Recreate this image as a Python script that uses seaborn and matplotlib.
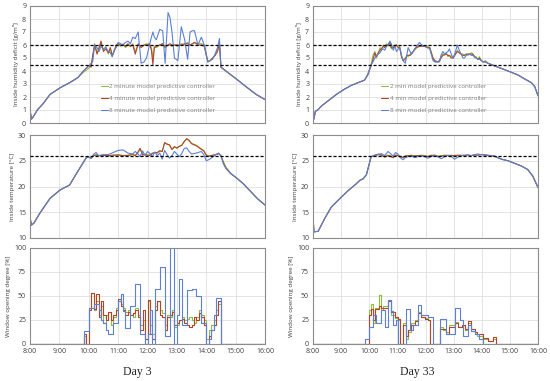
import pandas as pd
import matplotlib
matplotlib.use('Agg')
import matplotlib.pyplot as plt
import seaborn as sns

# ---------------- data ----------------
labels = ['2 minute model predictive controller',
          '4 minute model predictive controller',
          '8 minute model predictive controller']
labels_d33 = ['2 min model predictive controller',
              '4 min model predictive controller',
              '8 min model predictive controller']
hour_ticks = [8, 9, 10, 11, 12, 13, 14, 15, 16]
hour_labels = ['8:00', '9:00', '10:00', '11:00', '12:00', '13:00', '14:00', '15:00', '16:00']
day_titles = ['Day 3', 'Day 33']
hum_limits = [6.0, 4.5]
temp_limit = [26.0]

# Day 3 - inside humidity deficit
d3_hum_time = ['8:00', '8:03', '8:07', '8:15', '8:27', '8:41', '9:01', '9:21', '9:38', '9:49',
               '10:00', '10:05', '10:08', '10:12', '10:17', '10:21', '10:25', '10:30', '10:35', '10:40',
               '10:44', '10:48', '10:52', '10:56', '11:00', '11:05', '11:10', '11:15', '11:20', '11:25',
               '11:30', '11:35', '11:41', '11:47', '11:53', '11:58', '12:04', '12:08', '12:11', '12:14',
               '12:18', '12:25', '12:31', '12:36', '12:42', '12:46', '12:50', '12:55', '13:02', '13:09',
               '13:16', '13:22', '13:27', '13:32', '13:36', '13:43', '13:50', '13:56', '14:03', '14:08',
               '14:13', '14:18', '14:23', '14:27', '14:30', '14:40', '15:01', '15:21', '15:42', '16:00']
d3_hum_2 = [1.0, 0.3, 0.5, 1.0, 1.5, 2.2, 2.7, 3.1, 3.5, 3.9,
            4.2, 4.5, 5.0, 6.1, 5.4, 5.6, 6.2, 5.6, 5.9, 5.3,
            5.7, 5.1, 5.6, 5.9, 6.0, 5.9, 6.1, 5.8, 6.0, 5.9,
            6.1, 5.5, 6.0, 5.9, 6.0, 6.1, 6.0, 5.8, 5.0, 5.9,
            5.8, 6.0, 6.1, 5.9, 6.0, 6.0, 5.9, 6.0, 5.9, 6.1,
            6.0, 6.2, 6.0, 6.1, 6.2, 6.1, 6.1, 6.0, 4.8, 4.8,
            5.0, 5.2, 5.6, 6.0, 4.3, 4.0, 3.4, 2.8, 2.2, 1.8]
d3_hum_4 = [1.0, 0.3, 0.5, 1.0, 1.5, 2.2, 2.7, 3.1, 3.5, 4.0,
            4.4, 4.3, 5.2, 6.0, 5.3, 5.8, 6.3, 5.5, 5.7, 5.4,
            5.8, 5.2, 5.5, 6.0, 6.1, 6.0, 6.0, 5.9, 6.1, 5.9,
            6.0, 5.3, 6.1, 5.8, 6.0, 6.0, 6.1, 5.6, 4.5, 5.8,
            5.9, 6.0, 6.1, 5.8, 6.0, 6.1, 6.0, 6.0, 6.0, 6.0,
            6.1, 6.1, 6.0, 6.1, 6.2, 6.0, 6.0, 5.9, 4.7, 4.8,
            5.0, 5.2, 5.5, 6.1, 4.3, 4.0, 3.4, 2.8, 2.2, 1.8]
d3_hum_8 = [1.0, 0.3, 0.5, 1.0, 1.5, 2.2, 2.7, 3.1, 3.5, 4.0,
            4.4, 4.6, 4.7, 6.0, 5.8, 5.5, 5.9, 5.7, 5.8, 5.5,
            5.4, 5.1, 5.6, 5.8, 6.2, 6.1, 6.0, 6.2, 6.3, 6.1,
            6.6, 6.5, 7.0, 4.6, 4.7, 5.0, 6.0, 6.6, 7.0, 6.6,
            6.4, 7.2, 7.1, 4.6, 8.5, 8.1, 7.0, 5.0, 4.8, 7.4,
            6.4, 4.9, 7.0, 7.1, 7.1, 6.0, 6.6, 6.0, 4.7, 4.8,
            4.9, 5.3, 5.8, 6.5, 4.3, 4.0, 3.4, 2.8, 2.2, 1.8]

# Day 3 - inside temperature
d3_temp_time = ['8:00', '8:03', '8:08', '8:20', '8:30', '8:41', '9:01', '9:21', '9:38', '9:55',
                '10:00', '10:05', '10:10', '10:15', '10:20', '10:30', '10:40', '10:50', '11:00', '11:10',
                '11:20', '11:30', '11:35', '11:40', '11:45', '11:50', '11:55', '12:00', '12:05', '12:10',
                '12:15', '12:20', '12:25', '12:30', '12:35', '12:40', '12:45', '12:50', '12:55', '13:00',
                '13:05', '13:10', '13:15', '13:20', '13:25', '13:30', '13:40', '13:50', '13:55', '14:00',
                '14:05', '14:10', '14:20', '14:25', '14:30', '14:35', '14:40', '14:50', '15:00', '15:15',
                '15:30', '15:45', '16:00']
d3_temp_2 = [14.0, 12.5, 12.9, 14.8, 16.2, 17.7, 19.3, 20.3, 23.0, 25.6,
             25.7, 25.5, 26.0, 26.2, 26.0, 26.1, 25.9, 26.0, 26.2, 26.0,
             26.1, 26.3, 26.0, 26.5, 27.3, 26.2, 26.3, 26.0, 26.2, 26.5,
             26.6, 26.5, 27.0, 26.8, 28.5, 28.3, 28.0, 27.2, 27.8, 27.4,
             27.8, 28.0, 28.8, 29.2, 29.0, 28.4, 28.0, 27.3, 27.0, 26.0,
             25.8, 26.0, 26.2, 26.4, 26.0, 24.8, 23.8, 22.6, 21.8, 20.6,
             19.1, 17.6, 16.4]
d3_temp_4 = [14.0, 12.5, 12.9, 14.8, 16.2, 17.7, 19.3, 20.3, 23.0, 25.6,
             25.7, 25.5, 26.0, 26.1, 26.0, 26.0, 26.0, 26.1, 26.1, 26.0,
             26.0, 26.2, 26.0, 26.6, 27.4, 26.1, 26.2, 26.1, 26.0, 26.4,
             26.6, 26.6, 26.9, 26.8, 28.5, 28.2, 28.1, 27.2, 27.7, 27.5,
             27.8, 28.0, 28.7, 29.3, 28.9, 28.3, 27.9, 27.2, 26.9, 26.1,
             25.9, 26.0, 26.2, 26.4, 26.0, 24.6, 23.6, 22.5, 21.8, 20.6,
             19.1, 17.6, 16.4]
d3_temp_8 = [14.0, 12.5, 12.9, 14.8, 16.2, 17.7, 19.3, 20.3, 23.0, 25.6,
             25.7, 25.5, 26.3, 26.6, 26.0, 26.2, 26.2, 26.6, 27.0, 27.1,
             26.5, 26.3, 26.8, 26.4, 25.8, 26.9, 26.0, 26.8, 26.4, 25.8,
             26.7, 26.0, 26.5, 25.3, 27.0, 26.2, 25.5, 26.0, 26.8, 26.3,
             25.8, 26.4, 27.4, 27.5, 26.8, 26.3, 26.5, 26.8, 26.2, 25.0,
             25.2, 25.5, 26.2, 26.5, 26.0, 24.4, 23.5, 22.5, 21.8, 20.6,
             19.1, 17.6, 16.4]

# Day 3 - window opening degree (step signal)
d3_win_time = ['8:00', '9:45', '9:50', '9:55', '10:00', '10:05', '10:10', '10:15', '10:20', '10:25',
               '10:30', '10:35', '10:40', '10:45', '10:50', '10:55', '11:00', '11:05', '11:10', '11:15',
               '11:20', '11:25', '11:30', '11:35', '11:40', '11:45', '11:50', '11:55', '12:00', '12:05',
               '12:10', '12:15', '12:20', '12:25', '12:30', '12:35', '12:40', '12:45', '12:50', '12:55',
               '13:00', '13:05', '13:10', '13:15', '13:20', '13:25', '13:30', '13:35', '13:40', '13:45',
               '13:50', '13:55', '14:00', '14:05', '14:10', '14:15', '14:20', '14:25', '14:30', '16:00']
d3_win_2 = [0, 0, 8, 0, 38, 53, 35, 45, 30, 40,
            22, 30, 33, 20, 28, 38, 45, 42, 38, 33,
            35, 30, 28, 38, 30, 20, 25, 0, 45, 20,
            10, 40, 45, 35, 32, 20, 30, 28, 35, 18,
            20, 25, 28, 25, 26, 28, 25, 22, 28, 35,
            30, 25, 5, 15, 20, 25, 35, 42, 0, 0]
d3_win_4 = [0, 0, 10, 0, 35, 53, 36, 52, 28, 45,
            30, 25, 33, 25, 30, 35, 47, 40, 35, 30,
            33, 30, 32, 35, 28, 15, 35, 5, 46, 10,
            5, 35, 45, 30, 28, 15, 28, 30, 33, 20,
            22, 25, 26, 22, 20, 18, 20, 28, 25, 32,
            28, 20, 0, 8, 15, 20, 30, 45, 0, 0]
d3_win_8 = [0, 0, 14, 14, 38, 38, 42, 42, 35, 25,
            22, 15, 10, 10, 22, 22, 45, 52, 34, 17,
            17, 40, 40, 62, 62, 10, 10, 0, 10, 35,
            0, 57, 57, 80, 80, 8, 8, 100, 100, 0,
            30, 68, 20, 20, 56, 56, 57, 57, 50, 50,
            22, 22, 0, 5, 15, 30, 48, 48, 0, 0]

# Day 33 - inside humidity deficit
d33_hum_time = ['8:00', '8:02', '8:05', '8:10', '8:18', '8:32', '8:50', '9:07', '9:22', '9:36',
                '9:50', '9:57', '10:04', '10:08', '10:12', '10:15', '10:19', '10:23', '10:26', '10:30',
                '10:33', '10:37', '10:40', '10:44', '10:47', '10:51', '10:55', '10:58', '11:02', '11:05',
                '11:09', '11:12', '11:17', '11:20', '11:23', '11:27', '11:30', '11:34', '11:37', '11:41',
                '11:47', '11:52', '11:58', '12:04', '12:09', '12:13', '12:16', '12:20', '12:26', '12:30',
                '12:33', '12:37', '12:41', '12:44', '12:48', '12:51', '12:55', '12:59', '13:04', '13:08',
                '13:12', '13:16', '13:20', '13:23', '13:27', '13:31', '13:34', '13:38', '13:41', '13:45',
                '13:48', '13:52', '13:55', '13:59', '14:03', '14:08', '14:13', '14:20', '14:27', '14:49',
                '15:03', '15:17', '15:31', '15:46', '15:53', '16:00']
d33_hum_2 = [1.4, 0.3, 0.9, 1.0, 1.3, 1.7, 2.2, 2.6, 2.9, 3.1,
             3.3, 3.8, 4.5, 5.2, 5.5, 5.0, 5.3, 5.8, 5.6, 6.0,
             5.9, 6.1, 5.9, 6.1, 5.7, 5.9, 6.0, 6.0, 5.8, 5.9,
             5.0, 4.9, 5.0, 5.1, 5.1, 5.3, 5.4, 5.5, 5.6, 5.8,
             5.9, 6.0, 5.9, 5.9, 5.8, 5.4, 5.0, 4.7, 4.7, 4.8,
             5.1, 5.3, 5.2, 5.4, 5.1, 5.2, 5.1, 5.0, 5.3, 5.6,
             5.4, 5.3, 5.3, 5.2, 5.3, 5.2, 5.3, 5.4, 5.3, 5.0,
             5.1, 4.9, 5.1, 4.8, 4.7, 4.8, 4.6, 4.5, 4.4, 4.1,
             3.9, 3.7, 3.4, 3.1, 2.8, 2.1]
d33_hum_4 = [1.4, 0.3, 0.9, 1.0, 1.3, 1.7, 2.2, 2.6, 2.9, 3.1,
             3.3, 3.7, 4.4, 4.9, 5.4, 5.1, 5.4, 5.6, 5.7, 5.9,
             5.8, 6.0, 6.0, 6.2, 5.8, 5.8, 5.9, 6.0, 5.8, 5.8,
             5.1, 4.8, 4.9, 5.2, 5.2, 5.2, 5.3, 5.5, 5.7, 5.8,
             5.9, 5.9, 5.9, 5.8, 5.8, 5.3, 5.0, 4.8, 4.7, 4.8,
             5.0, 5.2, 5.3, 5.3, 5.2, 5.2, 5.0, 5.0, 5.3, 5.5,
             5.4, 5.3, 5.2, 5.2, 5.3, 5.3, 5.3, 5.3, 5.3, 5.1,
             5.0, 4.9, 5.0, 4.8, 4.7, 4.7, 4.6, 4.5, 4.4, 4.1,
             3.9, 3.7, 3.4, 3.1, 2.8, 2.1]
d33_hum_8 = [1.4, 0.3, 0.9, 1.0, 1.3, 1.7, 2.2, 2.6, 2.9, 3.1,
             3.3, 3.7, 4.5, 4.7, 5.0, 5.2, 5.3, 5.4, 5.6, 5.7,
             5.6, 5.9, 6.0, 6.3, 6.1, 5.6, 5.9, 5.5, 5.7, 5.8,
             5.2, 4.8, 4.6, 5.2, 5.8, 5.5, 5.3, 5.5, 5.7, 5.9,
             6.2, 6.0, 5.9, 5.8, 5.7, 5.2, 4.8, 4.7, 4.7, 4.7,
             5.2, 5.5, 5.3, 5.4, 5.5, 5.7, 5.3, 5.0, 5.5, 6.0,
             5.6, 5.3, 5.0, 5.0, 5.2, 5.3, 5.3, 5.2, 5.2, 5.1,
             5.0, 4.9, 4.9, 4.8, 4.7, 4.7, 4.6, 4.5, 4.4, 4.1,
             3.9, 3.7, 3.4, 3.1, 2.8, 2.1]

# Day 33 - inside temperature
d33_temp_time = ['8:00', '8:02', '8:11', '8:25', '8:39', '9:00', '9:15', '9:32', '9:40', '9:47',
                 '9:54', '10:04', '10:12', '10:20', '10:26', '10:33', '10:40', '10:44', '10:51', '10:56',
                 '11:01', '11:06', '11:12', '11:17', '11:23', '11:30', '11:37', '11:44', '11:51', '11:58',
                 '12:05', '12:12', '12:20', '12:27', '12:34', '12:41', '12:48', '12:55', '13:02', '13:09',
                 '13:16', '13:23', '13:30', '13:38', '13:45', '13:52', '13:59', '14:06', '14:13', '14:20',
                 '14:27', '14:42', '14:56', '15:10', '15:24', '15:38', '15:49', '16:00']
d33_temp_2 = [14.4, 11.2, 11.3, 13.8, 16.0, 17.9, 19.2, 20.5, 21.2, 21.5,
              22.3, 25.8, 26.0, 26.2, 26.0, 25.8, 26.1, 26.0, 25.7, 26.0,
              26.1, 25.9, 25.7, 25.9, 26.0, 26.1, 25.9, 26.0, 26.1, 26.0,
              25.9, 26.1, 26.0, 25.9, 26.0, 26.1, 26.0, 26.1, 25.9, 26.0,
              26.1, 26.0, 26.1, 26.0, 26.2, 26.1, 26.2, 26.1, 26.0, 26.0,
              25.9, 25.3, 25.0, 24.5, 24.0, 23.3, 22.0, 19.8]
d33_temp_4 = [14.4, 11.2, 11.3, 13.8, 16.0, 17.9, 19.2, 20.5, 21.2, 21.5,
              22.3, 25.8, 26.1, 26.3, 26.1, 25.7, 26.0, 25.9, 25.6, 26.1,
              26.0, 25.8, 25.6, 25.9, 26.0, 26.0, 25.9, 26.0, 26.0, 25.9,
              25.8, 26.0, 26.1, 25.8, 25.9, 26.0, 26.0, 26.0, 26.0, 26.1,
              26.0, 26.0, 26.1, 26.0, 26.1, 26.1, 26.2, 26.1, 26.0, 26.0,
              25.9, 25.3, 25.0, 24.5, 24.0, 23.3, 22.0, 19.8]
d33_temp_8 = [14.4, 11.2, 11.3, 13.8, 16.0, 17.9, 19.2, 20.5, 21.2, 21.5,
              22.3, 25.8, 26.0, 26.2, 26.4, 26.0, 26.8, 26.5, 25.9, 26.6,
              26.3, 25.6, 25.2, 25.6, 25.8, 25.9, 25.6, 25.8, 26.0, 25.8,
              25.5, 25.8, 26.0, 25.7, 25.4, 25.8, 26.1, 25.8, 25.3, 25.7,
              26.0, 26.1, 26.1, 26.0, 26.2, 26.3, 26.2, 26.2, 26.1, 26.0,
              25.9, 25.3, 25.0, 24.5, 24.0, 23.3, 22.0, 19.8]

# Day 33 - window opening degree (step signal)
d33_win_time = ['8:00', '9:50', '10:00', '10:04', '10:08', '10:12', '10:15', '10:20', '10:26', '10:30',
                '10:33', '10:40', '10:47', '10:51', '10:55', '10:58', '11:01', '11:05', '11:12', '11:19',
                '11:23', '11:26', '11:30', '11:33', '11:37', '11:44', '11:51', '11:58', '12:05', '12:10',
                '12:16', '12:30', '12:37', '12:44', '12:51', '13:02', '13:10', '13:13', '13:17', '13:20',
                '13:24', '13:30', '13:38', '13:45', '13:50', '13:55', '14:03', '14:13', '14:23', '14:30',
                '16:00']
d33_win_2 = [0, 0, 35, 42, 22, 38, 38, 51, 35, 40,
             40, 46, 30, 30, 27, 27, 25, 0, 22, 5,
             13, 13, 22, 22, 25, 33, 28, 27, 25, 0,
             0, 18, 15, 12, 20, 23, 18, 18, 20, 20,
             15, 22, 14, 10, 8, 8, 5, 3, 5, 0,
             0]
d33_win_4 = [0, 0, 30, 36, 25, 36, 36, 40, 38, 38,
             38, 45, 33, 33, 28, 28, 26, 0, 20, 8,
             15, 15, 20, 20, 24, 32, 28, 26, 25, 0,
             0, 16, 16, 10, 18, 22, 18, 18, 20, 20,
             16, 24, 16, 12, 10, 10, 6, 3, 7, 0,
             0]
d33_win_8 = [0, 5, 18, 18, 30, 30, 22, 22, 35, 35,
             18, 46, 34, 20, 20, 25, 0, 0, 0, 36,
             36, 15, 15, 20, 20, 41, 30, 30, 28, 28,
             0, 26, 26, 10, 10, 37, 37, 25, 25, 8,
             8, 20, 14, 10, 10, 5, 0, 0, 0, 0,
             0]

# ---------------- plotting ----------------
colors = ['#8fbf3f', '#b0452c', '#5b80d6']


def hours(s):
    h, m = s.split(':')
    return int(h) + int(m) / 60


def to_long(times, series, names):
    frames = []
    for vals, name in zip(series, names):
        assert len(vals) == len(times), name
        frames.append(pd.DataFrame({'time': [hours(t) for t in times], 'value': vals, 'controller': name}))
    return pd.concat(frames, ignore_index=True)


sns.set_theme(style='white')
plt.rcParams['font.family'] = ['Open Sans', 'DejaVu Sans']

fig = plt.figure(figsize=(5.5, 3.81), dpi=100)

col_x = [(30 / 550, 235 / 550), (313 / 550, 225 / 550)]
row_y = [(1 - 123 / 381, 117 / 381), (1 - 238 / 381, 103 / 381), (1 - 344 / 381, 96 / 381)]

panels = [
    [(d3_hum_time, [d3_hum_2, d3_hum_4, d3_hum_8]),
     (d3_temp_time, [d3_temp_2, d3_temp_4, d3_temp_8]),
     (d3_win_time, [d3_win_2, d3_win_4, d3_win_8])],
    [(d33_hum_time, [d33_hum_2, d33_hum_4, d33_hum_8]),
     (d33_temp_time, [d33_temp_2, d33_temp_4, d33_temp_8]),
     (d33_win_time, [d33_win_2, d33_win_4, d33_win_8])],
]
ylabels = ['Inside humidity deficit [g/m\u00b3]', 'Inside temperature [\u00b0C]', 'Window opening degree [%]']
ylims = [(0, 9), (10, 30), (0, 100)]
yticks = [list(range(0, 10)), [10, 15, 20, 25, 30], [0, 25, 50, 75, 100]]
minor_x = [8 + i / 6 for i in range(49)]

for c in range(2):
    names = labels if c == 0 else labels_d33
    for r in range(3):
        ax = fig.add_axes([col_x[c][0], row_y[r][0], col_x[c][1], row_y[r][1]])
        times, series = panels[c][r]
        df = to_long(times, series, names)
        extra = {'drawstyle': 'steps-post'} if r == 2 else {}
        sns.lineplot(data=df, x='time', y='value', hue='controller', hue_order=names,
                     palette=colors, lw=0.8, estimator=None, sort=False, ax=ax,
                     legend=(r == 0), **extra)

        if r == 0:
            for v in hum_limits:
                ax.axhline(v, color='black', ls=(0, (2.5, 1.5)), lw=0.9, zorder=5)
        elif r == 1:
            ax.axhline(temp_limit[0], color='black', ls=(0, (2.5, 1.5)), lw=0.9, zorder=5)

        ax.set_xlim(8, 16)
        ax.set_ylim(*ylims[r])
        ax.set_xticks(hour_ticks)
        ax.set_xticks(minor_x, minor=True)
        ax.set_yticks(yticks[r])
        if r == 2:
            ax.set_xticklabels(hour_labels)
        else:
            ax.set_xticklabels([])
        ax.grid(True, which='major', color='#d9d9d9', lw=0.5)
        ax.set_axisbelow(True)
        ax.tick_params(axis='both', which='both', direction='inout', length=2.5, width=0.5,
                       color='#595959', labelsize=5, labelcolor='#404040', pad=1.5)
        ax.tick_params(axis='y', which='major', left=False)
        for s in ax.spines.values():
            s.set_color('#8c8c8c')
            s.set_linewidth(0.8)
        ax.set_xlabel('')
        ax.set_ylabel(ylabels[r], fontsize=4.5, color='#404040', labelpad=2)

        if r == 0:
            handles, labs = ax.get_legend_handles_labels()
            ax.legend(handles, labs, loc='upper left', bbox_to_anchor=(0.29, 0.36), frameon=False,
                      fontsize=4.5, labelcolor='#7f7f7f', handlelength=1.0,
                      handletextpad=0.3, labelspacing=1.05, borderpad=0)

fig.text(137 / 550, 1 - 372 / 381, day_titles[0], ha='center', va='center',
         fontsize=8.5, family='Liberation Serif')
fig.text(417 / 550, 1 - 372 / 381, day_titles[1], ha='center', va='center',
         fontsize=8.5, family='Liberation Serif')

fig.savefig('out.png', dpi=100)
